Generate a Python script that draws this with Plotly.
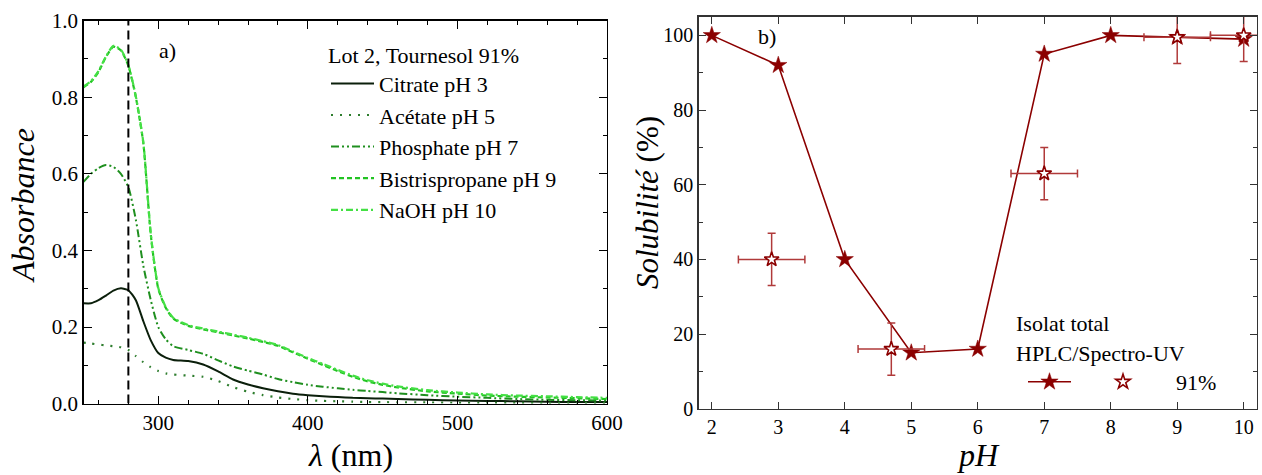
import plotly.graph_objects as go

# ---------------- Data: panel a) absorbance spectra ----------------
wavelength = [250, 255, 260, 265, 270, 275, 280, 285, 290, 295, 300, 305, 310, 320, 330, 340,
              350, 360, 370, 380, 390, 400, 410, 420, 430, 440, 450, 460, 480, 500, 520, 540,
              560, 580, 600]
citrate_ph3 = [0.262, 0.262, 0.270, 0.282, 0.295, 0.301, 0.296, 0.270, 0.215, 0.165, 0.132, 0.120,
               0.114, 0.111, 0.102, 0.084, 0.063, 0.050, 0.040, 0.032, 0.026, 0.022, 0.019, 0.017,
               0.015, 0.014, 0.013, 0.012, 0.010, 0.008, 0.007, 0.006, 0.005, 0.004, 0.004]
acetate_ph5 = [0.159, 0.157, 0.154, 0.152, 0.150, 0.147, 0.140, 0.124, 0.108, 0.095, 0.085, 0.079,
               0.076, 0.073, 0.070, 0.059, 0.043, 0.031, 0.022, 0.016, 0.012, 0.009, 0.007, 0.006,
               0.005, 0.004, 0.004, 0.003, 0.003, 0.002, 0.002, 0.002, 0.002, 0.002, 0.002]
phosphate_ph7 = [0.579, 0.600, 0.615, 0.623, 0.618, 0.600, 0.565, 0.480, 0.360, 0.270, 0.200, 0.168,
                 0.150, 0.140, 0.130, 0.113, 0.097, 0.086, 0.076, 0.064, 0.056, 0.049, 0.044, 0.040,
                 0.036, 0.033, 0.030, 0.027, 0.022, 0.018, 0.015, 0.012, 0.010, 0.009, 0.008]
bistris_ph9 = [0.826, 0.840, 0.866, 0.905, 0.932, 0.922, 0.882, 0.800, 0.680, 0.440, 0.300, 0.250,
               0.222, 0.203, 0.194, 0.186, 0.178, 0.170, 0.161, 0.151, 0.134, 0.117, 0.101, 0.085,
               0.070, 0.058, 0.049, 0.042, 0.032, 0.026, 0.021, 0.018, 0.016, 0.014, 0.012]
naoh_ph10 = [0.828, 0.842, 0.868, 0.906, 0.934, 0.924, 0.884, 0.802, 0.682, 0.442, 0.302, 0.252,
             0.224, 0.205, 0.196, 0.188, 0.180, 0.172, 0.163, 0.153, 0.136, 0.119, 0.104, 0.088,
             0.073, 0.061, 0.052, 0.045, 0.035, 0.029, 0.024, 0.021, 0.019, 0.017, 0.015]
ref_wavelength_x = [280, 280]
ref_wavelength_y = [0.0, 1.0]

# ---------------- Data: panel b) solubility ----------------
ph_total = [2, 3, 4, 5, 6, 7, 8, 9, 10]
sol_total = [100, 92, 40, 15, 16, 95, 100, 99.5, 99]
ph_91 = [2.9, 4.7, 7.0, 9.0, 10.0]
sol_91 = [40, 16, 63, 99.5, 100]
ph_91_err = [0.5, 0.5, 0.5, 0.5, 0.5]
sol_91_err = [7, 7, 7, 7, 7]

FONT = "Liberation Serif, 'Times New Roman', Times, 'DejaVu Serif', serif"
W, H = 1262, 475
DARKRED = "#8b0000"
NB = "&nbsp;"

fig = go.Figure()

series = [
    ("Citrate pH 3", citrate_ph3, "#0b1f0b", "solid", 2.0),
    ("Acétate pH 5", acetate_ph5, "#2e7d2e", "2px,7px", 2.2),
    ("Phosphate pH 7", phosphate_ph7, "#1f8f1f", "8px,3px,2px,3px,2px,3px", 2.0),
    ("Bistrispropane pH 9", bistris_ph9, "#22c322", "5px,3px", 2.2),
    ("NaOH pH 10", naoh_ph10, "#44e044", "7px,3px,2px,3px", 2.2),
]
for name, vals, col, dash, w in series:
    fig.add_trace(go.Scatter(x=wavelength, y=vals, mode="lines", name=name,
                             line=dict(color=col, dash=dash, width=w, shape="spline", smoothing=0.6),
                             xaxis="x", yaxis="y", legend="legend"))

fig.add_trace(go.Scatter(x=ref_wavelength_x, y=ref_wavelength_y, mode="lines", showlegend=False,
                         line=dict(color="black", dash="9px,5px", width=2), xaxis="x", yaxis="y"))

fig.add_trace(go.Scatter(x=ph_total, y=sol_total, mode="lines+markers", name="",
                         line=dict(color=DARKRED, width=1.6),
                         marker=dict(symbol="star", size=13, color=DARKRED,
                                     line=dict(color=DARKRED, width=0.5)),
                         xaxis="x2", yaxis="y2", legend="legend2"))
fig.add_trace(go.Scatter(x=ph_91, y=sol_91, mode="markers",
                         name=NB * 6 + "91%",
                         marker=dict(symbol="star", size=11, color="white",
                                     line=dict(color=DARKRED, width=1.6)),
                         error_x=dict(type="data", array=ph_91_err, color="#b03a3a", thickness=1.5, width=4),
                         error_y=dict(type="data", array=sol_91_err, color="#b03a3a", thickness=1.5, width=4),
                         xaxis="x2", yaxis="y2", legend="legend3"))

def px_x(p):
    return p / W

def px_y(p):
    return 1 - p / H

axis_common = dict(showline=True, mirror="ticks", ticks="inside", showgrid=False, zeroline=False,
                   linewidth=1.3, automargin=False)

fig.update_layout(
    width=W, height=H,
    margin=dict(l=0, r=0, t=0, b=0, pad=0, autoexpand=False),
    paper_bgcolor="white", plot_bgcolor="white",
    font=dict(family=FONT, color="black"),
    xaxis=dict(domain=[px_x(83.5), px_x(607)], range=[250, 600], anchor="y",
               tickvals=[300, 400, 500, 600], ticklen=8, tickcolor="black", linecolor="black",
               tickfont=dict(size=21, family=FONT),
               minor=dict(dtick=20, tick0=260, ticklen=4, ticks="inside", tickcolor="black"),
               **axis_common),
    yaxis=dict(domain=[px_y(403.6), px_y(20.6)], range=[0, 1.0], anchor="x",
               tickvals=[0, 0.2, 0.4, 0.6, 0.8, 1.0], ticktext=["0.0", "0.2", "0.4", "0.6", "0.8", "1.0"],
               ticklen=8, tickcolor="black", linecolor="black",
               tickfont=dict(size=21, family=FONT),
               minor=dict(dtick=0.1, ticklen=4, ticks="inside", tickcolor="black"),
               **axis_common),
    xaxis2=dict(domain=[px_x(698.5), px_x(1257)], range=[1.8, 10.2], anchor="y2",
                tickvals=[2, 3, 4, 5, 6, 7, 8, 9, 10], ticklen=7, tickcolor="#333", linecolor="#333",
                tickfont=dict(size=20, family=FONT), **axis_common),
    yaxis2=dict(domain=[px_y(408.8), px_y(16.7)], range=[0, 105], anchor="x2",
                tickvals=[0, 20, 40, 60, 80, 100], ticklen=7, tickcolor="#333", linecolor="#333",
                tickfont=dict(size=20, family=FONT),
                minor=dict(dtick=10, ticklen=4, ticks="inside", tickcolor="#333"),
                **axis_common),
    legend=dict(x=px_x(326), y=px_y(34), xanchor="left", yanchor="top",
                bgcolor="rgba(0,0,0,0)", borderwidth=0, itemwidth=43,
                font=dict(size=22, family=FONT),
                title=dict(text="Lot 2, Tournesol 91%", font=dict(size=22, family=FONT)),
                tracegroupgap=0),
    legend2=dict(x=px_x(1023), y=px_y(382), xanchor="left", yanchor="middle",
                 orientation="h", bgcolor="rgba(0,0,0,0)", borderwidth=0, itemwidth=43,
                 font=dict(size=22, family=FONT)),
    legend3=dict(x=px_x(1103), y=px_y(382), xanchor="left", yanchor="middle",
                 orientation="h", bgcolor="rgba(0,0,0,0)", borderwidth=0,
                 font=dict(size=22, family=FONT)),
    showlegend=True,
)

annotations = [
    dict(text="<i>Absorbance</i>", x=px_x(23), y=px_y(206), textangle=-90, font=dict(size=32)),
    dict(text="<i>λ</i> (nm)", x=px_x(350), y=px_y(455), font=dict(size=32)),
    dict(text="<i>Solubilité</i> (%)", x=px_x(647), y=px_y(203), textangle=-90, font=dict(size=31)),
    dict(text="<i>pH</i>", x=px_x(978), y=px_y(455), font=dict(size=32)),
    dict(text="Isolat total", x=px_x(1014), y=px_y(323), xanchor="left", font=dict(size=22)),
    dict(text="HPLC/Spectro-UV", x=px_x(1014), y=px_y(353), xanchor="left", font=dict(size=22)),
]
for a in annotations:
    a.setdefault("xanchor", "center")
    fig.add_annotation(xref="paper", yref="paper", showarrow=False, yanchor="middle",
                       font=dict(family=FONT, color="black", size=a["font"]["size"]),
                       **{k: v for k, v in a.items() if k != "font"})

fig.add_annotation(text="a)", x=306, y=0.922, xref="x", yref="y", showarrow=False,
                   font=dict(family=FONT, size=22, color="black"))
fig.add_annotation(text="b)", x=2.83, y=99.7, xref="x2", yref="y2", showarrow=False,
                   font=dict(family=FONT, size=22, color="black"))

fig.write_html("out.html", config={"displayModeBar": False, "staticPlot": True},
               post_script="document.body.style.margin='0';document.body.style.padding='0';"
                           "document.body.style.overflow='hidden';")
